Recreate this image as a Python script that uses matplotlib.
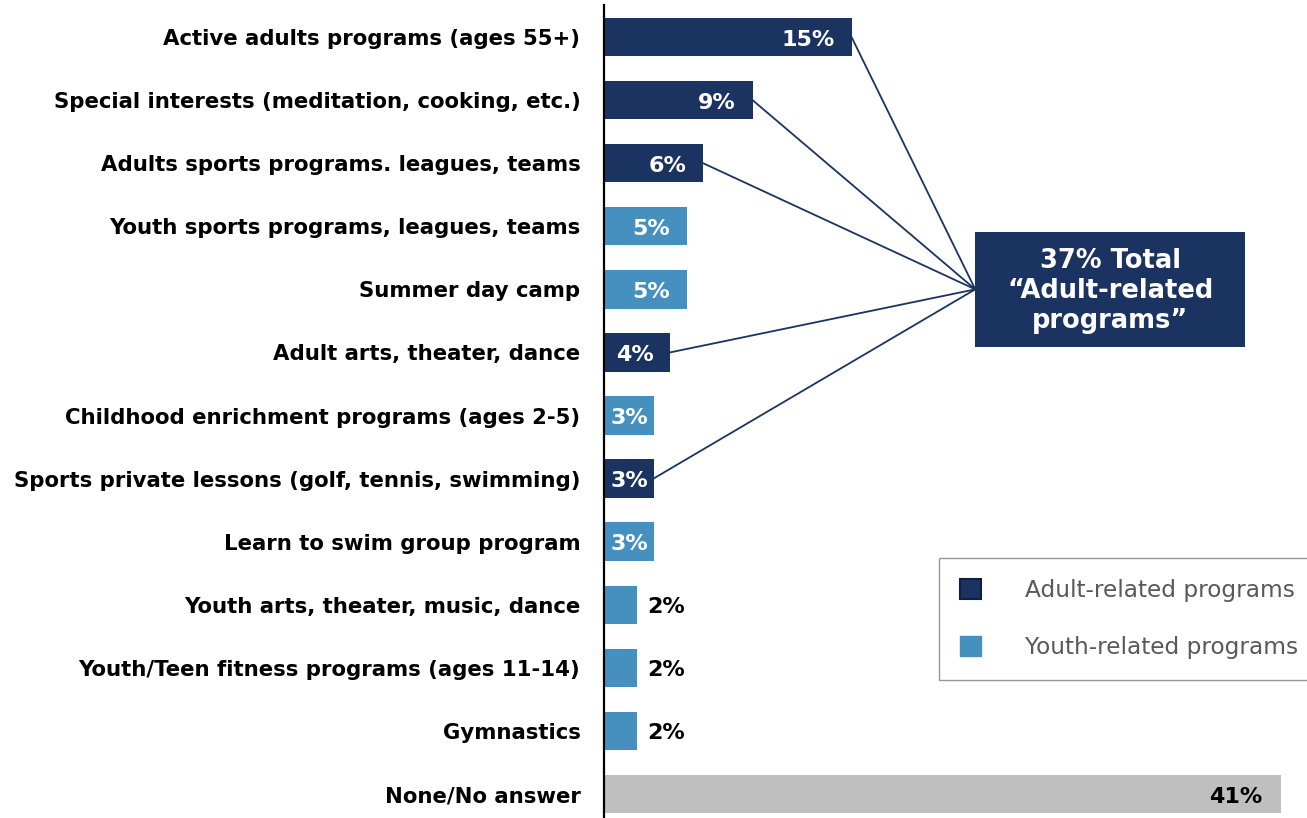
import matplotlib
matplotlib.use("Agg")
import matplotlib.pyplot as plt
from matplotlib.patches import Patch, Rectangle

categories = [
    "Active adults programs (ages 55+)",
    "Special interests (meditation, cooking, etc.)",
    "Adults sports programs. leagues, teams",
    "Youth sports programs, leagues, teams",
    "Summer day camp",
    "Adult arts, theater, dance",
    "Childhood enrichment programs (ages 2-5)",
    "Sports private lessons (golf, tennis, swimming)",
    "Learn to swim group program",
    "Youth arts, theater, music, dance",
    "Youth/Teen fitness programs (ages 11-14)",
    "Gymnastics",
    "None/No answer",
]
values = [15, 9, 6, 5, 5, 4, 3, 3, 3, 2, 2, 2, 41]
groups = ["adult", "adult", "adult", "youth", "youth", "adult", "youth",
          "adult", "youth", "youth", "youth", "youth", "none"]
legend_labels = ["Adult-related programs", "Youth-related programs"]
callout_text = "37% Total\n\u201cAdult-related\nprograms\u201d"

NAVY = "#1B3361"
BLUE = "#4590BE"
GREY = "#BFBFBF"
colors = {"adult": NAVY, "youth": BLUE, "none": GREY}

W, H = 1307, 818
fig = plt.figure(figsize=(W / 100, H / 100), dpi=100)
ax = fig.add_axes([604 / W, 0, 1 - 604 / W, (H - 5) / H])

y = list(range(len(categories)))
ax.barh(y, values, height=0.61, color=[colors[g] for g in groups], zorder=2)
ax.set_xlim(0, (W - 604) / 16.5)
ax.set_ylim(12.38, -0.507)

ax.set_yticks(y)
ax.set_yticklabels(categories, fontsize=15.3, fontweight="bold", color="black")
ax.tick_params(axis="y", length=0, pad=17)
ax.set_xticks([])
for s in ["top", "right", "bottom"]:
    ax.spines[s].set_visible(False)
ax.spines["left"].set_linewidth(1.6)
ax.spines["left"].set_color("black")

# value labels
fs_val = 16
for i, (v, g) in enumerate(zip(values, groups)):
    lab = f"{v}%"
    yy = i + 0.04
    if g == "none":
        ax.text(v - 1.1, yy, lab, ha="right", va="center", fontsize=fs_val,
                fontweight="bold", color="black", zorder=4)
    elif v <= 2:
        ax.text(v + 0.65, yy, lab, ha="left", va="center", fontsize=fs_val,
                fontweight="bold", color="black", zorder=4)
    elif v <= 3:
        ax.text(v / 2 + 0.05, yy, lab, ha="center", va="center", fontsize=fs_val,
                fontweight="bold", color="white", zorder=4)
    else:
        ax.text(v - 1.0, yy, lab, ha="right", va="center", fontsize=fs_val,
                fontweight="bold", color="white", zorder=4)

# connector lines to callout
cx, cy = 22.5, 4.0
for i, (v, g) in enumerate(zip(values, groups)):
    if g == "adult":
        ax.plot([v, cx], [i, cy], color=NAVY, lw=1.3, zorder=3, clip_on=False)

# callout box
bx0, bx1 = (975 - 604) / 16.5, (1245 - 604) / 16.5
by0, by1 = (232 - 37) / 63.1, (347 - 37) / 63.1
ax.add_patch(Rectangle((bx0, by0), bx1 - bx0, by1 - by0, facecolor=NAVY,
                       edgecolor="none", zorder=5, clip_on=False))
ax.text((bx0 + bx1) / 2, (by0 + by1) / 2 + 0.02, callout_text, ha="center",
        va="center", fontsize=18.5, fontweight="bold", color="white",
        linespacing=1.2, zorder=6)

# legend
handles = [Patch(facecolor=NAVY, edgecolor="#0F1F3D", linewidth=1.5),
           Patch(facecolor=BLUE, edgecolor=BLUE)]
leg = fig.legend(handles, legend_labels, loc="upper left",
                 bbox_to_anchor=(939 / W, 1 - 558 / H),
                 bbox_transform=fig.transFigure, frameon=True, fancybox=False,
                 fontsize=16.75, labelcolor="#595959", handlelength=0.9,
                 handleheight=0.9, handletextpad=1.9, labelspacing=1.46,
                 borderpad=0.9, borderaxespad=0)
leg.get_frame().set_edgecolor("#7F7F7F")
leg.get_frame().set_linewidth(1.0)

fig.savefig("out.png", dpi=100)
